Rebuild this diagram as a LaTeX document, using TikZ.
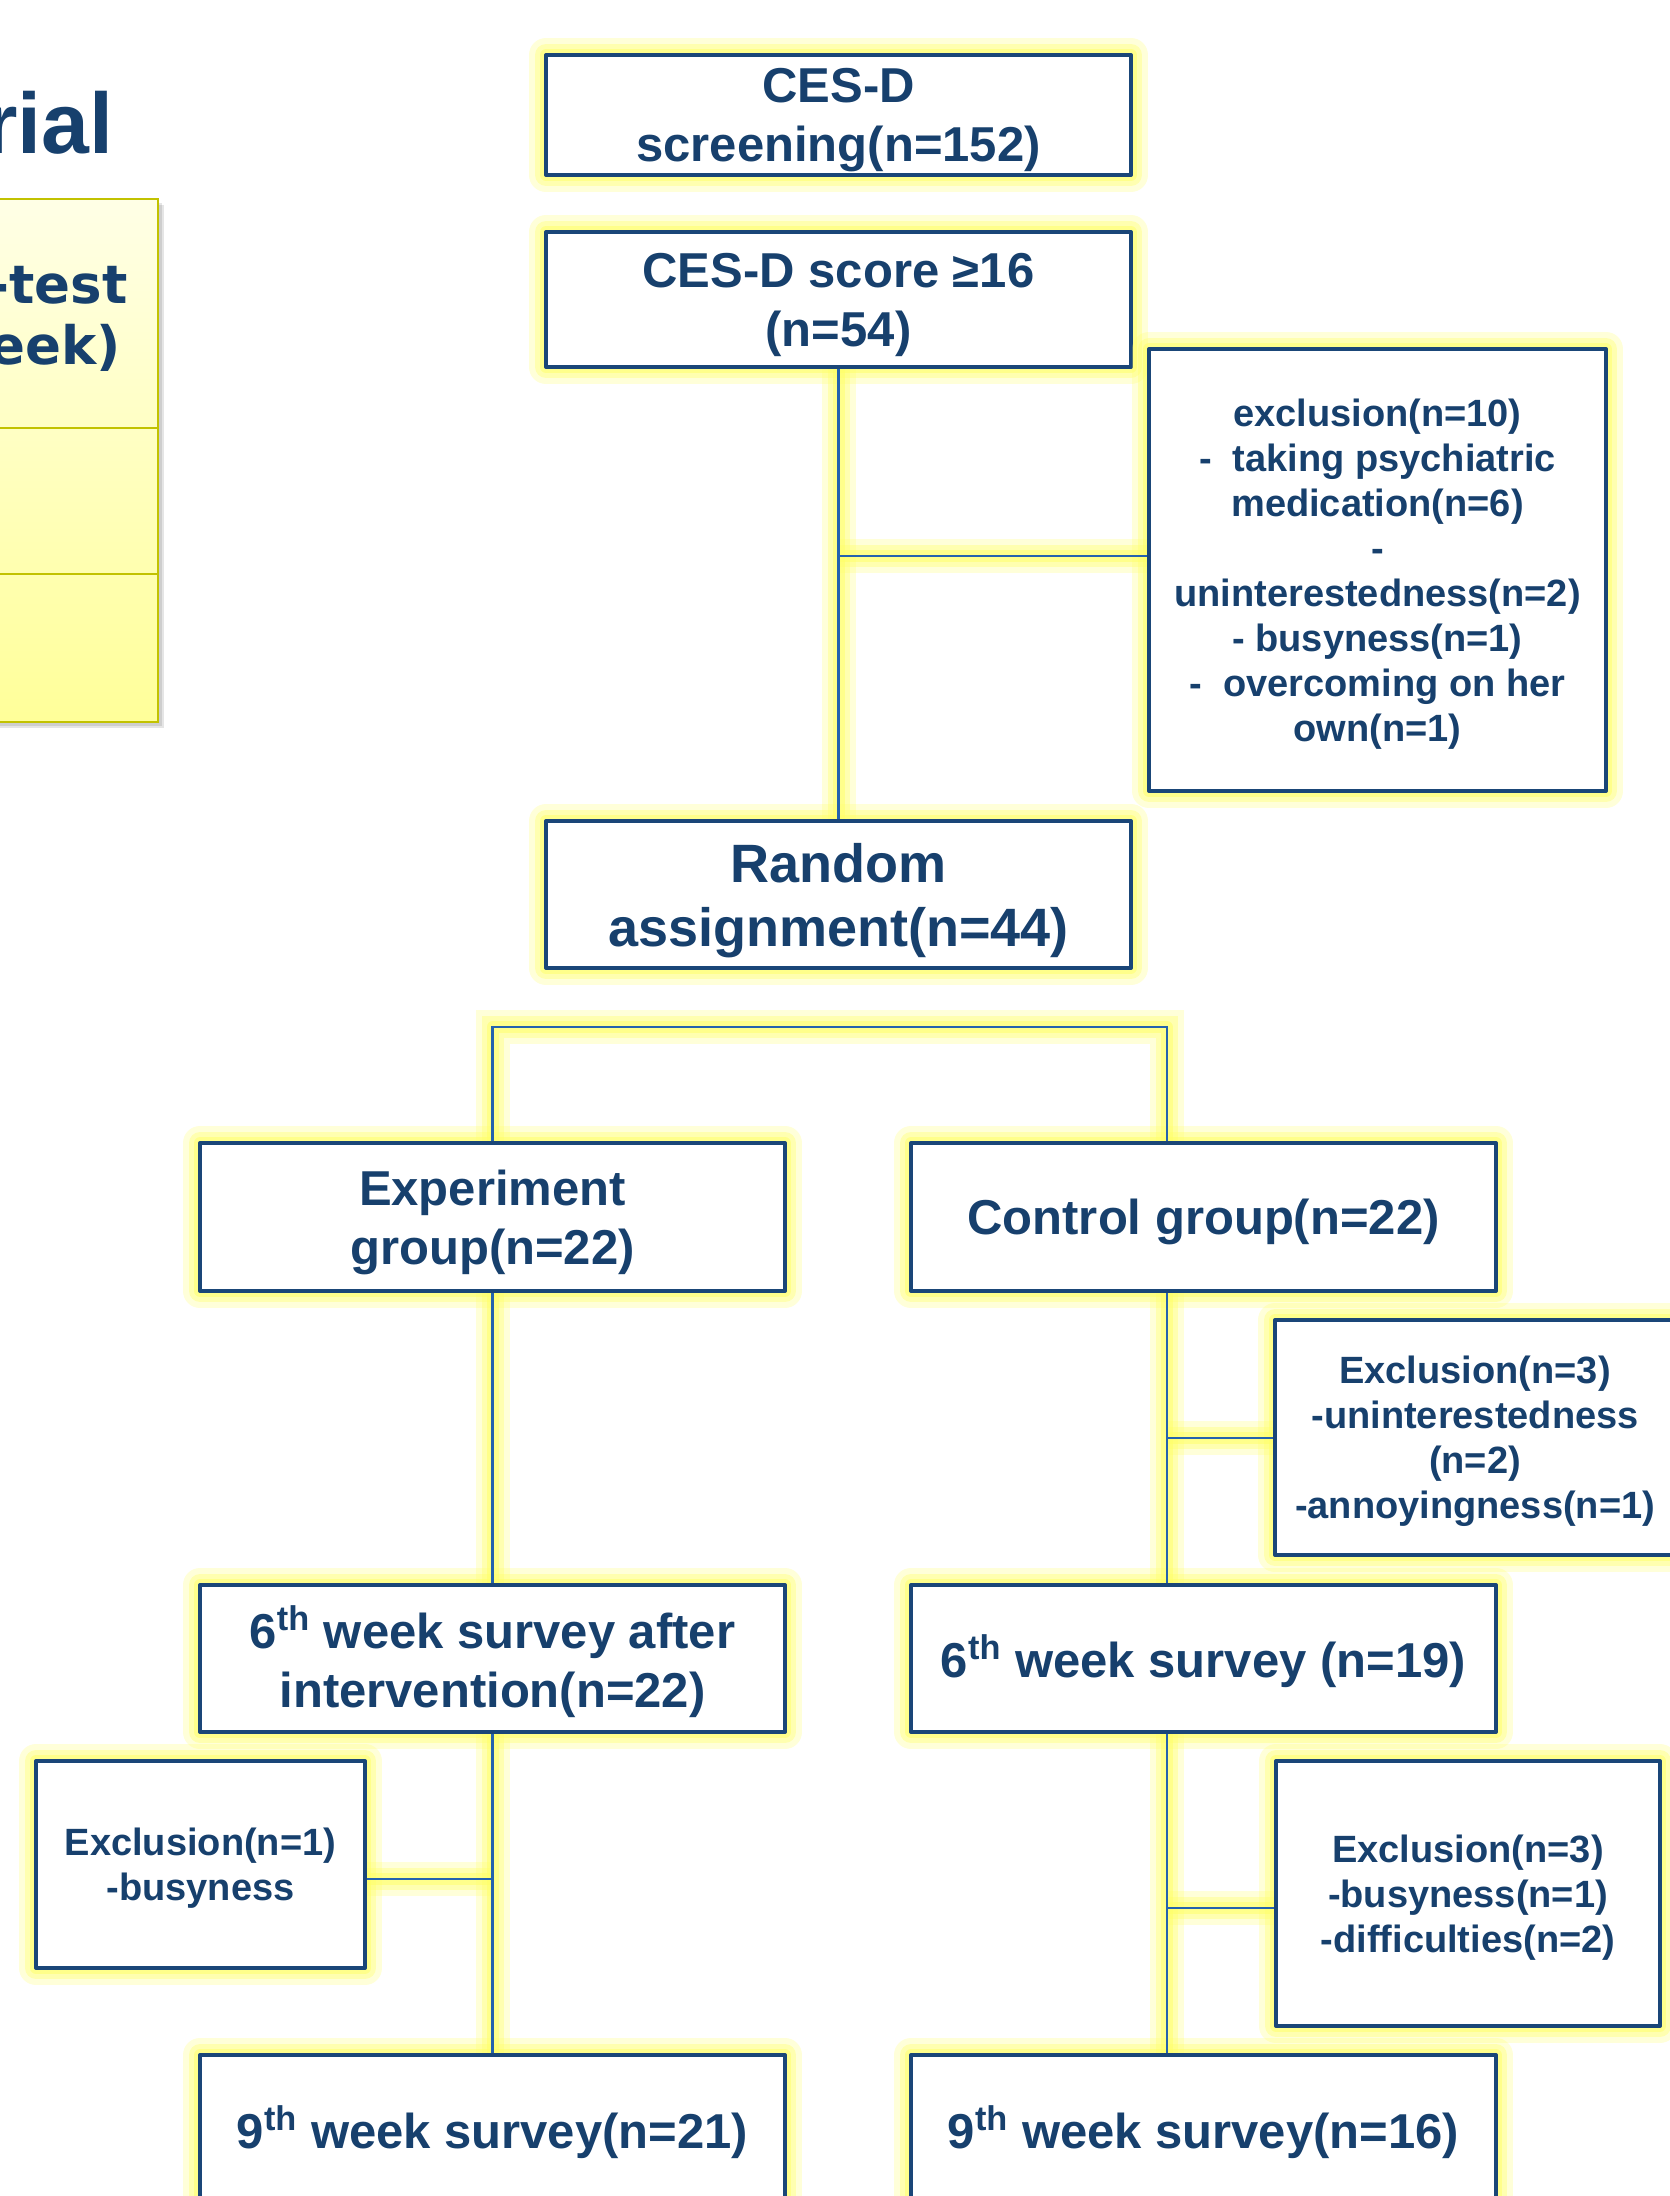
\documentclass[tikz,border=0pt]{standalone}
\usepackage{fontspec}
\setmainfont{Liberation Sans}
\newfontfamily\verd{DejaVu Sans}
\usetikzlibrary{calc}
\definecolor{navy}{HTML}{17406D}
\definecolor{bordc}{HTML}{1A4678}
\definecolor{linec}{HTML}{2563AE}
\definecolor{glowc}{HTML}{FFFF66}
\definecolor{tabfillA}{HTML}{FFFFE6}
\definecolor{tabfillB}{HTML}{FFFF99}
\definecolor{tabline}{HTML}{C2C200}
\pgfdeclarelayer{glowlayer}
\pgfdeclarelayer{front}
\pgfsetlayers{glowlayer,main,front}
\newcommand\mainfnt{\bfseries\fontsize{24.5}{29.5}\selectfont}
\newcommand\bigfnt{\bfseries\fontsize{27}{32}\selectfont}
\newcommand\exfnt{\bfseries\fontsize{19}{22.5}\selectfont}
\tikzset{
  glowbox/.style={line join=round,
    preaction={draw=glowc,draw opacity=0.25,line width=17pt},
    preaction={draw=glowc,draw opacity=0.35,line width=11pt},
    preaction={draw=glowc,draw opacity=0.5,line width=6pt}},
  flowbox/.style={glowbox, rectangle, fill=white, draw=bordc, line width=2pt,
    inner sep=0pt, align=center, text=navy, font=\mainfnt,
    minimum width=292.5pt, minimum height=74pt, text depth=-1pt},
  exbox/.style={flowbox, font=\exfnt, text depth=-2pt},
  cglow/.style={draw=glowc, draw opacity=0.5, line width=6pt, line join=round,
    preaction={draw=glowc,draw opacity=0.25,line width=17pt},
    preaction={draw=glowc,draw opacity=0.35,line width=11pt}},
  conn/.style={draw=linec, line width=1.3pt},
  tabtext/.style={anchor=base east, inner sep=0pt, text=navy,
    font=\verd\bfseries\fontsize{26.5}{30}\selectfont}
}
\newcommand\connpath[1]{%
  \begin{pgfonlayer}{glowlayer}\draw[cglow] #1;\end{pgfonlayer}%
  \begin{pgfonlayer}{front}\draw[conn] #1;\end{pgfonlayer}}
\begin{document}
\begin{tikzpicture}[x=0.5pt,y=-0.5pt]
\useasboundingbox (0,0) rectangle (1670,2196);
\clip (0,0) rectangle (1670,2196);

% title fragment
\node[anchor=base east, inner sep=0pt, text=navy,
  font=\bfseries\fontsize{43}{48}\selectfont] (title) at (114,153) {rial};

% yellow table fragment
\fill[black, opacity=0.10] (-20,205) rectangle (164,728);
\fill[black, opacity=0.10] (-20,203) rectangle (162,726);
\shade[top color=tabfillA, bottom color=tabfillB] (-20,199) rectangle (158,722);
\draw[tabline, line width=1.2pt] (-20,199) rectangle (158,722);
\draw[tabline, line width=0.9pt] (-20,428) -- (158,428);
\draw[tabline, line width=0.9pt] (-20,574) -- (158,574);
\node[tabtext] (tA) at (128,303) {-test};
\node[tabtext] (tB) at (121,364) {eek)};

% boxes
\node[flowbox, minimum height=60pt, text depth=0pt] (A) at (838.5,115) {CES-D\\screening(n=152)};
\node[flowbox, minimum height=67.5pt, text depth=-1.6pt] (B) at (838.5,299.5) {CES-D score ≥16\\(n=54)};
\node[exbox, minimum width=228.5pt, minimum height=221pt, text depth=-3.8pt] (X1) at (1377.5,570)
  {exclusion(n=10)\\-\ \ taking psychiatric\\medication(n=6)\\-\\uninterestedness(n=2)\\- busyness(n=1)\\-\ \ overcoming on her\\own(n=1)};
\node[flowbox, font=\bigfnt, minimum height=73.5pt, text depth=0pt] (R) at (838.5,894.5) {Random\\assignment(n=44)};
\node[flowbox, text depth=-1.6pt] (E) at (492.5,1217) {Experiment\\group(n=22)};
\node[flowbox, text depth=-0.9pt] (C) at (1203.5,1217) {Control group(n=22)};
\node[exbox, minimum width=200pt, minimum height=117.5pt, text depth=-1.2pt] (X2) at (1475,1437.5)
  {Exclusion(n=3)\\-uninterestedness\\(n=2)\\-annoyingness(n=1)};
\node[flowbox, minimum height=73.5pt, text depth=2pt] (E6) at (492.5,1658.5) {6\textsuperscript{th} week survey after\\intervention(n=22)};
\node[flowbox, minimum height=73.5pt, text depth=2pt] (C6) at (1203.5,1658.5) {6\textsuperscript{th} week survey (n=19)};
\node[exbox, minimum width=164.5pt, minimum height=103.5pt, text depth=-2.3pt] (X3) at (200.5,1864.5) {Exclusion(n=1)\\-busyness};
\node[exbox, minimum width=192pt, minimum height=132.5pt, text depth=-2.6pt] (X4) at (1468,1893.5)
  {Exclusion(n=3)\\-busyness(n=1)\\-difficulties(n=2)};
\node[flowbox, minimum height=75pt, text depth=2.6pt] (E9) at (492.5,2130) {9\textsuperscript{th} week survey(n=21)};
\node[flowbox, minimum height=75pt, text depth=2.6pt] (C9) at (1203.5,2130) {9\textsuperscript{th} week survey(n=16)};

% junction coordinates
\coordinate (j1) at (838.5,556);
\coordinate (lx) at (492.5,1027);
\coordinate (cx) at (1167,1027);
\coordinate (j2) at (1167,1438);
\coordinate (j3) at (492.5,1879);
\coordinate (j4) at (1167,1908);

% connectors
\connpath{(B.south) -- (R.north)}
\connpath{(j1) -- (j1 -| X1.west)}
\connpath{(E.north) -- (lx) -- (cx) -- (C.north -| cx)}
\connpath{(E.south) -- (E6.north)}
\connpath{(C.south -| cx) -- (C6.north -| cx)}
\connpath{(j2) -- (j2 -| X2.west)}
\connpath{(E6.south) -- (E9.north)}
\connpath{(j3) -- (j3 -| X3.east)}
\connpath{(C6.south -| cx) -- (C9.north -| cx)}
\connpath{(j4) -- (j4 -| X4.west)}
\end{tikzpicture}
\end{document}
